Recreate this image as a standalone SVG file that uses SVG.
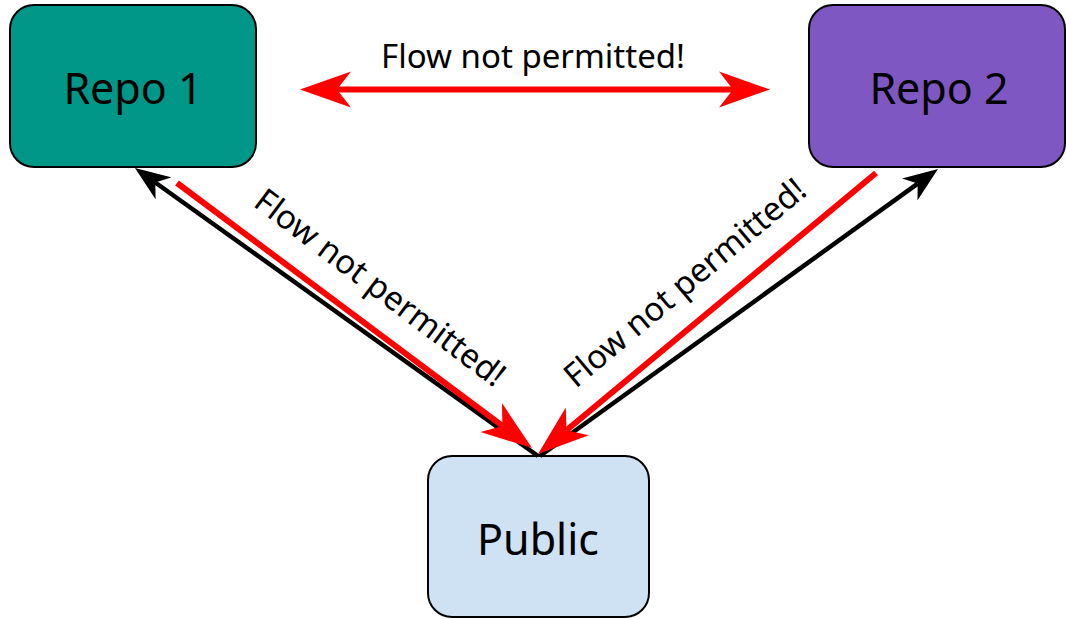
<svg xmlns="http://www.w3.org/2000/svg" width="1066" height="619" viewBox="0 0 1066 619">
  <style>
    .node { stroke: #000; stroke-width: 2; }
    .label { font-family: "Noto Sans", "Open Sans", sans-serif; font-size: 43px; fill: #000; text-anchor: middle; }
    .elabel { font-family: "Noto Sans", "Open Sans", sans-serif; font-size: 33px; fill: #000; text-anchor: middle; }
    .deny { stroke: #ff0000; stroke-width: 6; fill: none; }
    .allow { stroke: #000; stroke-width: 4.5; fill: none; }
  </style>
  <defs>
    <marker id="redHead" markerUnits="userSpaceOnUse" markerWidth="52" markerHeight="38" viewBox="0 0 52 38" refX="14" refY="19" orient="auto-start-reverse">
      <path d="M0,1 L51,19 L0,37 L14,19 Z" fill="#ff0000"/>
    </marker>
    <marker id="blackHead" markerUnits="userSpaceOnUse" markerWidth="36" markerHeight="28" viewBox="0 0 36 28" refX="10" refY="14" orient="auto-start-reverse">
      <path d="M0,0.5 L35,14 L0,27.5 L10,14 Z" fill="#000"/>
    </marker>
  </defs>

  <g id="repo1">
    <rect class="node" x="10" y="5" width="246" height="162" rx="24" fill="#009688"/>
    <text class="label" x="133" y="104">Repo 1</text>
  </g>
  <g id="repo2">
    <rect class="node" x="809" y="5" width="256" height="162" rx="24" fill="#7e57c2"/>
    <text class="label" x="939" y="104">Repo 2</text>
  </g>
  <g id="public">
    <rect class="node" x="428" y="456" width="221" height="161" rx="24" fill="#cfe2f3"/>
    <text class="label" x="538" y="555">Public</text>
  </g>

  <g id="connectors">
    <line class="allow" x1="538" y1="456" x2="155.3" y2="182.5" marker-end="url(#blackHead)"/>
    <line class="allow" x1="540" y1="456" x2="917.7" y2="183.6" marker-end="url(#blackHead)"/>
    <line class="deny" x1="177" y1="183" x2="502.4" y2="425.9" marker-end="url(#redHead)"/>
    <line class="deny" x1="876" y1="173" x2="566.5" y2="430.3" marker-end="url(#redHead)"/>
    <line class="deny" x1="337" y1="89.5" x2="733" y2="89.5" marker-start="url(#redHead)" marker-end="url(#redHead)"/>
    <text class="elabel" x="533" y="68">Flow not permitted!</text>
    <text class="elabel" transform="translate(380,288) rotate(37)" x="0" y="11">Flow not permitted!</text>
    <text class="elabel" transform="translate(685,283) rotate(-40)" x="0" y="11">Flow not permitted!</text>
  </g>
</svg>
